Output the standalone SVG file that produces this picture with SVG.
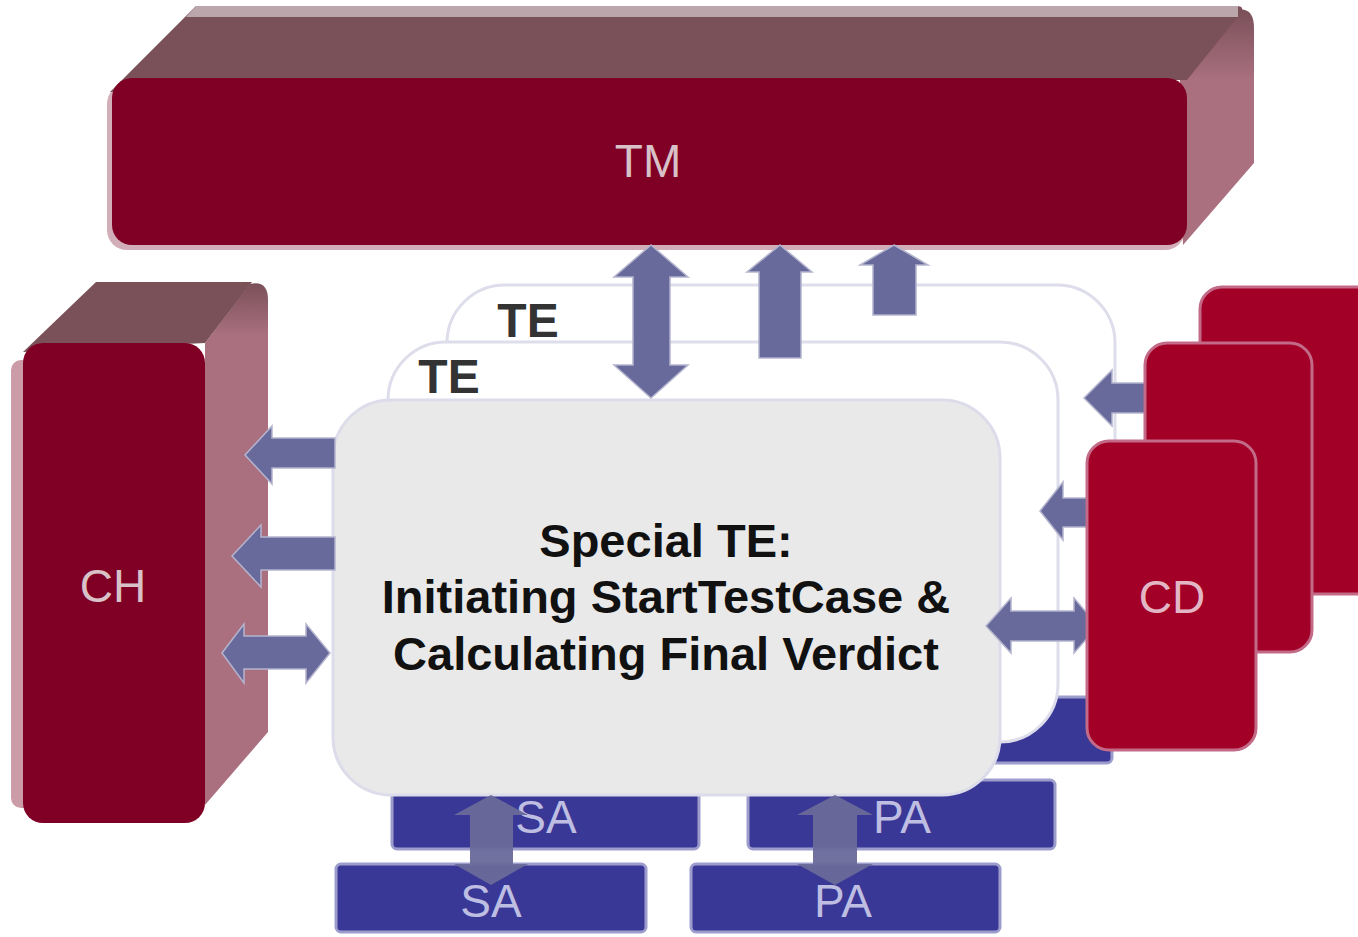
<svg xmlns="http://www.w3.org/2000/svg" width="1358" height="937" viewBox="0 0 1358 937">
<style>
.front{fill:#7F0024}
.topf{fill:#7A5059}
.under{fill:#D2AEB8}
.card{fill:#A30028;stroke:#C26A88;stroke-width:3}
.te{fill:#FFFFFF;stroke:#DDDDEB;stroke-width:3}
.ste{fill:#E9E9E9;stroke:#DCDCEA;stroke-width:3}
.blue{fill:#3A3896;stroke:#9D9DCD;stroke-width:3}
.arr{fill:#676A9A;stroke:#B4B4CE;stroke-width:1.5}
.arr2{fill:#69699A;fill-opacity:0.95}
.lbl{font-family:"Liberation Sans",Arial,sans-serif;font-size:46px;text-anchor:middle}
.red{fill:#D9C1C8}
.cdt{fill:#E2B6C4}
.bt{fill:#BEBEE2}
.tet{font-family:"Liberation Sans",Arial,sans-serif;font-size:48px;font-weight:bold;fill:#333333;text-anchor:middle}
.main{font-family:"Liberation Sans",Arial,sans-serif;font-size:47px;font-weight:bold;fill:#111111;text-anchor:middle}
</style>
<defs>
<linearGradient id="sideg" x1="0" y1="0" x2="0" y2="1">
<stop offset="0" stop-color="#7A5059"/>
<stop offset="0.3" stop-color="#AA7080"/>
<stop offset="1" stop-color="#AA7080"/>
</linearGradient>
<linearGradient id="sideg2" x1="0" y1="0" x2="0" y2="1">
<stop offset="0" stop-color="#7A5059"/>
<stop offset="0.1" stop-color="#AA7080"/>
<stop offset="1" stop-color="#AA7080"/>
</linearGradient>
</defs>

<g id="TM">
<rect class="under" x="107" y="84" width="1078" height="166" rx="20"/>
<path fill="url(#sideg)" d="M1180,80 L1236,10 Q1254,6 1254,28 L1254,163 L1183,245 Z"/>
<path class="topf" d="M110,92 L196,6 L1236,6 Q1246,6 1240,14 L1187,80 Z"/>
<polygon fill="#BAA6AB" points="196,6 1238,6 1238,17 186,17"/>
<rect class="front" x="112" y="78" width="1075" height="167" rx="20"/>
<text class="lbl red" x="648" y="177">TM</text>
</g>

<g id="CH">
<rect fill="#CB9BA7" x="11" y="360" width="30" height="448" rx="10"/>
<path fill="url(#sideg2)" d="M205,343 L250,284 Q268,280 268,300 L268,732 L205,805 Z"/>
<polygon class="topf" points="23,352 96,282 252,282 205,343"/>
<rect class="front" x="23" y="343" width="182" height="480" rx="20"/>
<text class="lbl red" x="113" y="602">CH</text>
</g>

<g id="TE-back">
<rect class="te" x="447" y="285" width="668" height="420" rx="58"/>
<text class="tet" x="528" y="337">TE</text>
</g>
<g id="PA-back">
<rect class="blue" x="805" y="697" width="307" height="66" rx="5"/>
</g>

<g id="TE-middle">
<rect class="te" x="388" y="342" width="670" height="400" rx="58"/>
<text class="tet" x="449" y="393">TE</text>
</g>
<g id="SA-middle">
<rect class="blue" x="392" y="780" width="307" height="69" rx="5"/>
<text class="lbl bt" x="546" y="833">SA</text>
</g>
<g id="PA-middle">
<rect class="blue" x="748" y="780" width="307" height="69" rx="5"/>
<text class="lbl bt" x="902" y="833">PA</text>
</g>

<g id="SpecialTE">
<rect class="ste" x="333" y="400" width="667" height="395" rx="58"/>
<text class="main" x="666" y="557">Special TE:</text>
<text class="main" x="666" y="613">Initiating StartTestCase &amp;</text>
<text class="main" x="666" y="670">Calculating Final Verdict</text>
</g>

<g id="SA-front">
<rect class="blue" x="336" y="864" width="310" height="68" rx="5"/>
<text class="lbl bt" x="491" y="917">SA</text>
</g>
<g id="PA-front">
<rect class="blue" x="691" y="864" width="309" height="68" rx="5"/>
<text class="lbl bt" x="843" y="917">PA</text>
</g>

<g id="connectors">
<polygon class="arr" points="651,245 688,277 670,277 670,365 688,365 651,398 614,365 633,365 633,277 614,277"/>
<polygon class="arr" points="780,245 812,272 801,272 801,358 759,358 759,272 747,272"/>
<polygon class="arr" points="894,245 928,265 916,265 916,315 873,315 873,265 860,265"/>
<polygon class="arr" points="245,455 272,426 272,438 335,438 335,468 272,468 272,484"/>
<polygon class="arr" points="232,556 261,525 261,537 335,537 335,570 261,570 261,587"/>
<polygon class="arr" points="222,653 244,624 244,636 306,636 306,624 330,653 306,683 306,669 244,669 244,683"/>
<polygon class="arr" points="1084,398 1112,370 1112,383 1148,383 1148,413 1112,413 1112,426"/>
<polygon class="arr" points="1040,511 1063,482 1063,498 1090,498 1090,527 1063,527 1063,540"/>
<polygon class="arr" points="986,626 1011,598 1011,611 1074,611 1074,598 1098,626 1074,653 1074,641 1011,641 1011,653"/>
<polygon class="arr2" points="491,795 528,815 513,815 513,864 528,864 491,885 454,864 470,864 470,815 454,815"/>
<polygon class="arr2" points="835,795 873,815 857,815 857,864 873,864 835,885 797,864 813,864 813,815 797,815"/>
</g>

<g id="CD">
<rect class="card" x="1200" y="287" width="200" height="307" rx="22"/>
<rect class="card" x="1145" y="343" width="167" height="309" rx="22"/>
<rect class="card" x="1087" y="441" width="169" height="309" rx="22"/>
<text class="lbl cdt" x="1172" y="613">CD</text>
</g>
</svg>
